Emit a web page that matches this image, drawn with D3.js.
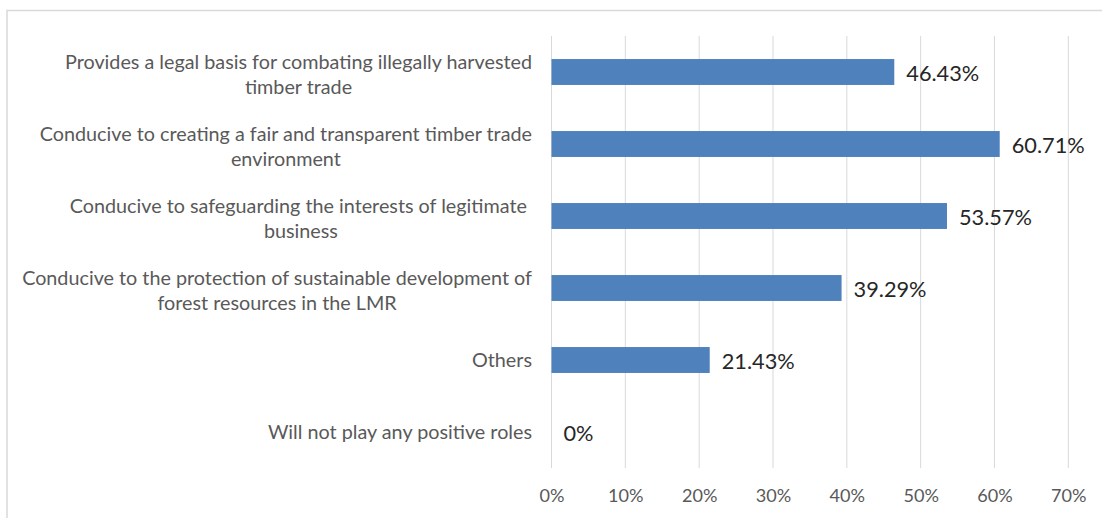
<!DOCTYPE html>
<html>
<head>
<meta charset="utf-8">
<script src="https://cdn.jsdelivr.net/npm/d3@7"></script>
<style>
  html, body { margin: 0; padding: 0; background: #fff; }
  svg { display: block; }
</style>
</head>
<body>
<svg id="chart" width="1102" height="518"></svg>
<script>
// Survey answers (line breaks mark where each label wraps)
const categories = [
  "Provides a legal basis for combating illegally harvested\ntimber trade",
  "Conducive to creating a fair and transparent timber trade\nenvironment",
  "Conducive to safeguarding the interests of legitimate \nbusiness",
  "Conducive to the protection of sustainable development of\nforest resources in the LMR",
  "Others",
  "Will not play any positive roles"
];
const shares = [46.43, 60.71, 53.57, 39.29, 21.43, 0];
const valueLabels = ["46.43%", "60.71%", "53.57%", "39.29%", "21.43%", "0%"];
const xTicks = [0, 10, 20, 30, 40, 50, 60, 70];

const FONT = "Lato, 'Open Sans', 'Liberation Sans', sans-serif";
const svg = d3.select("#chart");

// pick a font size so that a sample string spans the wanted width
function fitSize(sample, width) {
  const t = svg.append("text").attr("font-family", FONT).attr("font-size", 100).text(sample);
  const w = t.node().getComputedTextLength();
  t.remove();
  return 100 * width / w;
}
const catSize = fitSize("Conducive to the protection of sustainable development of", 510);
const tickSize = fitSize("40%", 35.5);
const valSize = fitSize("46.43%", 73);

// outer chart frame
svg.append("rect")
  .attr("x", 7).attr("y", 10.5)
  .attr("width", 1110).attr("height", 520)
  .attr("fill", "none").attr("stroke", "#d9d9d9").attr("stroke-width", 1.5);

const plot = { left: 551.5, right: 1068.3, top: 36, bottom: 468 };

const x = d3.scaleLinear().domain([0, 70]).range([plot.left, plot.right]);
const y = d3.scaleBand().domain(categories).range([plot.top, plot.bottom]).paddingInner(0.64).paddingOuter(0.32);

// vertical gridlines
svg.append("g")
  .selectAll("line")
  .data(xTicks)
  .join("line")
  .attr("x1", d => x(d)).attr("x2", d => x(d))
  .attr("y1", plot.top).attr("y2", plot.bottom)
  .attr("stroke", "#d9d9d9").attr("stroke-width", 1);

// x axis tick labels
const xAxis = d3.axisBottom(x).tickValues(xTicks).tickFormat(d => d + "%").tickSize(0).tickPadding(0);
const gx = svg.append("g").attr("transform", `translate(0,${plot.bottom})`).call(xAxis);
gx.select(".domain").remove();
gx.selectAll("text")
  .attr("y", 34).attr("dy", null)
  .attr("font-family", FONT).attr("font-size", tickSize)
  .attr("fill", "#595959");

// bars
svg.append("g")
  .selectAll("rect")
  .data(shares)
  .join("rect")
  .attr("x", x(0))
  .attr("y", (d, i) => y(categories[i]))
  .attr("width", d => x(d) - x(0))
  .attr("height", y.bandwidth())
  .attr("fill", "#4f81bd");

// value labels
svg.append("g")
  .selectAll("text")
  .data(shares)
  .join("text")
  .attr("x", d => x(d) + 12)
  .attr("y", (d, i) => y(categories[i]) + y.bandwidth() / 2 + 8.5)
  .attr("font-family", FONT).attr("font-size", valSize)
  .attr("fill", "#262626")
  .text((d, i) => valueLabels[i]);

// category labels: lines centred on each other, block right-aligned to the axis
const labelRight = 532;
const lineGap = 25;
const gLab = svg.append("g");
categories.forEach(c => {
  const lines = c.split("\n");
  const cy = y(c) + y.bandwidth() / 2;
  const t = gLab.append("text")
    .attr("font-family", FONT).attr("font-size", catSize)
    .attr("fill", "#595959");
  const spans = lines.map((ln, i) => t.append("tspan")
    .attr("y", cy + 7 + (i - (lines.length - 1) / 2) * lineGap + (lines.length > 1 ? 2 : 0))
    .text(ln));
  const widths = spans.map(s => s.node().getComputedTextLength());
  const blockW = d3.max(widths);
  const centre = labelRight - blockW / 2;
  spans.forEach(s => s.attr("x", centre).attr("text-anchor", "middle"));
});
</script>
</body>
</html>
